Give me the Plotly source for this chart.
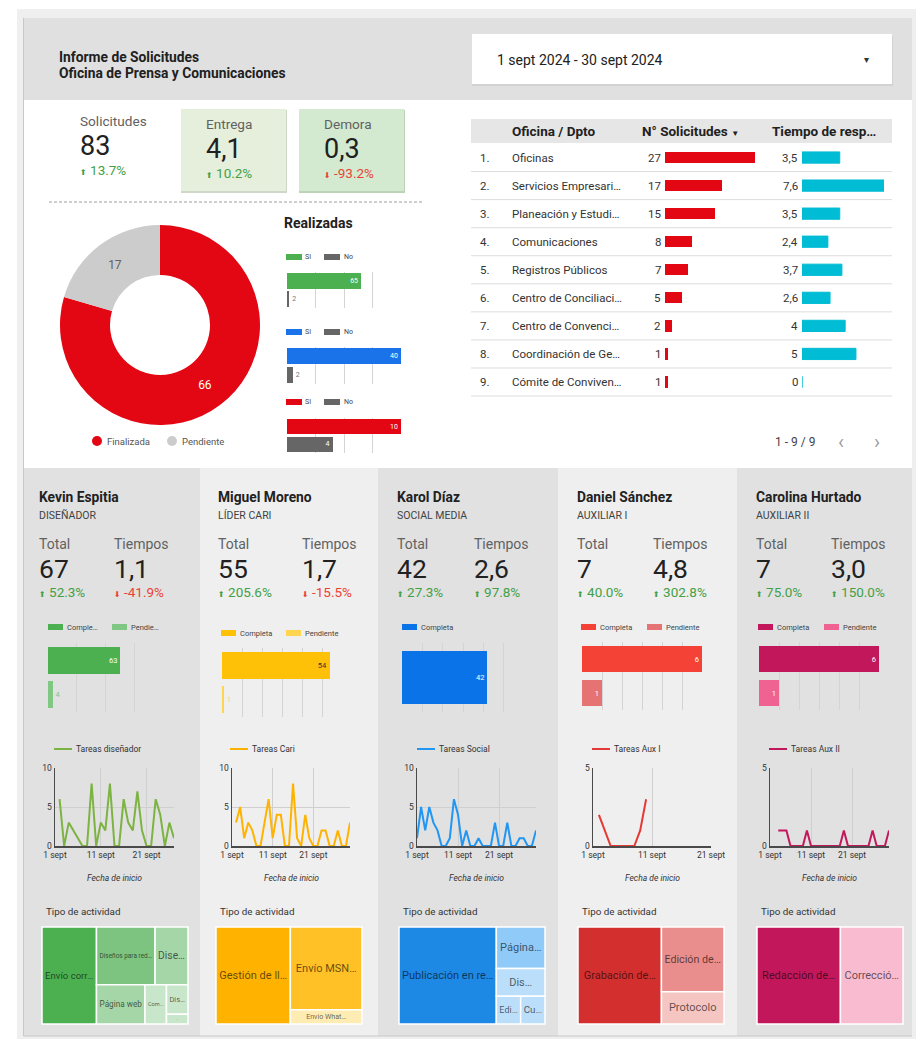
import plotly.graph_objects as go

W, H = 916, 1039
FONT = "Roboto"
GREEN = "#43a047"
RED_TXT = "#ea4335"

# ---------------- data ----------------
title_lines = ["Informe de Solicitudes", "Oficina de Prensa y Comunicaciones"]
date_range_text = "1 sept 2024 - 30 sept 2024"

kpi_labels = ["Solicitudes", "Entrega", "Demora"]
kpi_values = ["83", "4,1", "0,3"]
kpi_changes = [13.7, 10.2, -93.2]

donut_labels = ["Finalizada", "Pendiente"]
donut_values = [66, 17]
donut_colors = ["#e30613", "#cccccc"]

realizadas_categories = ["SI", "No"]
realizadas_si = [65, 40, 10]
realizadas_no = [2, 2, 4]
realizadas_colors = ["#4caf50", "#1a73e8", "#e30613"]

office_names = ["Oficinas", "Servicios Empresari…", "Planeación y Estudi…", "Comunicaciones",
                "Registros Públicos", "Centro de Conciliaci…", "Centro de Convenci…",
                "Coordinación de Ge…", "Cómite de Conviven…"]
office_requests = [27, 17, 15, 8, 7, 5, 2, 1, 1]
office_response_times = [3.5, 7.6, 3.5, 2.4, 3.7, 2.6, 4, 5, 0]
table_headers = ["Oficina / Dpto", "N° Solicitudes", "Tiempo de resp…"]

people = ["Kevin Espitia", "Miguel Moreno", "Karol Díaz", "Daniel Sánchez", "Carolina Hurtado"]
people_roles = ["DISEÑADOR", "LÍDER CARI", "SOCIAL MEDIA", "AUXILIAR I", "AUXILIAR II"]
people_totals = [67, 55, 42, 7, 7]
people_total_changes = [52.3, 205.6, 27.3, 40.0, 75.0]
people_times = [1.1, 1.7, 2.6, 4.8, 3.0]
people_time_changes = [-41.9, -15.5, 97.8, 302.8, 150.0]
tasks_complete = [63, 54, 42, 6, 6]
tasks_pending = [4, 1, None, 1, 1]
complete_colors = ["#4caf50", "#ffc107", "#0b73e8", "#f44336", "#c2185b"]
pending_colors = ["#81c784", "#ffd54f", None, "#e57373", "#f06292"]
complete_text_colors = ["white", "#333333", "white", "white", "white"]

line_names = ["Tareas diseñador", "Tareas Cari", "Tareas Social", "Tareas Aux I", "Tareas Aux II"]
line_colors = ["#7cb342", "#ffb300", "#2196f3", "#e53935", "#c2185b"]
tasks_kevin = [6, 0, 3, 2, 1, 0, 0, 8, 0, 3, 2, 8, 0, 0, 6, 3, 2, 7, 2, 0, 0, 6, 4, 0, 3, 1]          # from 2 sept
tasks_miguel = [3, 5, 1, 3, 2, 0, 0, 3, 6, 1, 4, 4, 0, 0, 8, 1, 0, 4, 1, 0, 0, 2, 2, 0, 0, 2, 0, 0, 3]  # from 2 sept
tasks_karol = [1, 5, 2, 5, 3, 2, 0, 0, 1, 6, 4, 0, 2, 0, 0, 1, 0, 0, 0, 3, 0, 0, 3, 0, 0, 1, 1, 0, 0, 2]  # from 1 sept
tasks_daniel = [2, 1, 0, 0, 0, 0, 0, 1, 3]                                                   # from 2 sept
tasks_carolina = [1, 1, 1, 0, 0, 0, 0, 1, 0, 0, 0, 0, 0, 0, 0, 0, 1, 0, 0, 0, 0, 0, 0, 1, 0, 0, 0, 1]  # from 3 sept
task_series = [tasks_kevin, tasks_miguel, tasks_karol, tasks_daniel, tasks_carolina]
task_start_day = [2, 2, 1, 2, 3]
axis_end_day = [27, 30, 30, 21, 30]
axis_ymax = [10, 10, 10, 5, 5]
date_tick_days = [1, 11, 21]
date_tick_text = ["1 sept", "11 sept", "21 sept"]

tm_labels = [
    ["Envío corr…", "Diseños para red…", "Dise…", "Página web", "Com…", "Dis…", "…"],
    ["Gestión de ll…", "Envío MSN…", "Envío What…"],
    ["Publicación en re…", "Página…", "Dis…", "Edi…", "Cu…"],
    ["Grabación de…", "Edición de…", "Protocolo"],
    ["Redacción de…", "Correcció…"],
]
tm_values = [
    [25, 16, 9, 9, 4, 3, 1],
    [28, 23, 4],
    [28, 6, 4, 2, 2],
    [4, 2, 1],
    [4, 3],
]
tm_colors = [
    ["#4caf50", "#7cc47f", "#a5d6a7", "#a5d6a7", "#c8e6c9", "#c8e6c9", "#c8e6c9"],
    ["#ffb300", "#ffc125", "#ffecb3"],
    ["#1e88e5", "#90caf9", "#bbdefb", "#bbdefb", "#bbdefb"],
    ["#d32f2f", "#e98e8c", "#f5c5c2"],
    ["#c2185b", "#f8bbd0"],
]

# ---------------- helpers ----------------
fig = go.Figure()
shapes, annotations, axes = [], [], {}


def X(x):
    return x / W


def Y(y):
    return 1 - y / H


def rect(x0, y0, x1, y1, fill, line_color=None, line_width=0, layer="below"):
    shapes.append(dict(type="rect", xref="paper", yref="paper", x0=X(x0), x1=X(x1), y0=Y(y1), y1=Y(y0),
                       fillcolor=fill, line=dict(color=line_color or "rgba(0,0,0,0)", width=line_width),
                       layer=layer))


def circle(cx, cy, r, fill):
    shapes.append(dict(type="circle", xref="paper", yref="paper", x0=X(cx - r), x1=X(cx + r),
                       y0=Y(cy + r), y1=Y(cy - r), fillcolor=fill, line=dict(width=0)))


def line(x0, y0, x1, y1, color, width=1, dash="solid", layer="below"):
    shapes.append(dict(type="line", xref="paper", yref="paper", x0=X(x0), x1=X(x1), y0=Y(y0), y1=Y(y1),
                       line=dict(color=color, width=width, dash=dash), layer=layer))


def text(x, y, s, size=11, color="#212121", xanchor="left", yanchor="middle", xref="paper", yref="paper"):
    annotations.append(dict(x=X(x) if xref == "paper" else x, y=Y(y) if yref == "paper" else y,
                            xref=xref, yref=yref, text=s, showarrow=False, xanchor=xanchor,
                            yanchor=yanchor, font=dict(size=size, color=color, family=FONT),
                            borderpad=0))


axis_counter = [0]


def add_axes(xpx, ypx, xopts, yopts):
    axis_counter[0] += 1
    n = axis_counter[0]
    s = "" if n == 1 else str(n)
    axes["xaxis" + s] = dict(domain=[X(xpx[0]), X(xpx[1])], anchor="y" + s, fixedrange=True,
                             automargin=False, **xopts)
    axes["yaxis" + s] = dict(domain=[Y(ypx[1]), Y(ypx[0])], anchor="x" + s, fixedrange=True,
                             automargin=False, **yopts)
    return "x" + s, "y" + s


def bar_xopts(mx, dt):
    return dict(range=[0, mx], dtick=dt, tick0=0, showgrid=True, gridcolor="#d4d4d4", gridwidth=1,
                showticklabels=False, zeroline=False, showline=False, ticks="")


def cat_yopts(cats, visible=True):
    return dict(type="category", categoryorder="array", categoryarray=cats,
                range=[len(cats) - 0.5, -0.5], showticklabels=False, showgrid=False,
                zeroline=False, showline=False, ticks="", visible=visible)


def change_html(v):
    up = v >= 0
    arrow = "⬆" if up else "⬇"
    return (f"<span style='font-size:8px;font-family:DejaVu Sans'>{arrow}</span> {v:.1f}%",
            GREEN if up else RED_TXT)


def dec(v):
    return str(int(v)) if float(v).is_integer() else f"{v:.1f}".replace(".", ",")


def day(d):
    return f"2024-09-{d:02d}"


# ---------------- backgrounds ----------------
rect(17, 9, 916, 1039, "#efefef")
rect(24, 18, 912, 100, "#e0e0e0")
rect(24, 100, 912, 468, "#ffffff")
col_bounds = [24, 200, 378, 558, 737, 912]
col_fills = ["#e1e1e1", "#efefef", "#e1e1e1", "#efefef", "#e1e1e1"]
for i in range(5):
    rect(col_bounds[i], 468, col_bounds[i + 1], 1036, col_fills[i])
line(23.5, 18, 23.5, 1036, "#c8c8c8", 1)
line(23.5, 1036, 912, 1036, "#c8c8c8", 1)

# header
text(58, 57, f"<b>{title_lines[0]}</b>", 13.8)
text(58, 73, f"<b>{title_lines[1]}</b>", 13.8)
rect(472, 36, 893, 86, "#d2d2d2")
rect(472, 34, 892, 84, "#ffffff")
text(496, 60, date_range_text, 14, "#212121")
text(866, 59, "▾", 10, "#333333", xanchor="center")

# ---------------- KPIs ----------------
rect(181, 110, 287, 193, "#cfd8c8")
rect(181, 109, 286, 191, "#e6efdc")
rect(299, 110, 405, 193, "#bcd3b8")
rect(299, 109, 404, 191, "#d3ead0")
kpi_x = [79, 205, 323]
kpi_dy = [0, 3, 3]
for i in range(3):
    text(kpi_x[i], 121 + kpi_dy[i], kpi_labels[i], 13.6, "#616161")
    text(kpi_x[i], 146 + kpi_dy[i], kpi_values[i], 27, "#212121")
    s, c = change_html(kpi_changes[i])
    text(kpi_x[i], 170 + kpi_dy[i], s, 13.5, c)

line(49, 202, 422, 202, "#9e9e9e", 1, dash="3px,2px")

# ---------------- donut ----------------
fig.add_trace(go.Pie(labels=donut_labels, values=donut_values, hole=0.5, sort=False,
                     direction="clockwise", rotation=0,
                     marker=dict(colors=donut_colors, line=dict(width=0)),
                     textinfo="value", textposition="inside", insidetextorientation="horizontal",
                     insidetextfont=dict(color=["white", "#616161"], size=12, family=FONT),
                     domain=dict(x=[X(60), X(260)], y=[Y(425), Y(225)]),
                     showlegend=False, hoverinfo="skip"))
circle(97, 441, 5, donut_colors[0])
text(106, 441, donut_labels[0], 9.5, "#555555")
circle(172, 441, 5, donut_colors[1])
text(181, 441, donut_labels[1], 9.5, "#555555")

# ---------------- Realizadas ----------------
text(283, 223, "<b>Realizadas</b>", 14, "#212121")
real_y = [(272, 308), (347, 384), (418, 453)]
real_leg_y = [257, 332, 402]
real_max = [100, 40, 10]
real_dtick = [25, 10, 2.5]
NO_GRAY = "#666666"
for i in range(3):
    ly = real_leg_y[i]
    rect(286, ly - 3, 302, ly + 3, realizadas_colors[i])
    text(304, ly, "SI", 7, "#444444")
    rect(324, ly - 3, 340, ly + 3, NO_GRAY)
    text(343, ly, "No", 7, "#444444")
    xa, ya = add_axes((287, 401), real_y[i], bar_xopts(real_max[i], real_dtick[i]),
                      cat_yopts(realizadas_categories))
    fig.add_trace(go.Bar(x=[realizadas_si[i], realizadas_no[i]], y=realizadas_categories, orientation="h",
                         xaxis=xa, yaxis=ya, marker=dict(color=[realizadas_colors[i], NO_GRAY], line=dict(width=0)),
                         width=0.86, text=[realizadas_si[i], realizadas_no[i]], textposition="auto",
                         insidetextanchor="end", textangle=0,
                         insidetextfont=dict(color="white", size=7, family=FONT),
                         outsidetextfont=dict(color="#757575", size=7, family=FONT),
                         cliponaxis=False, hoverinfo="skip", showlegend=False))

# ---------------- table ----------------
rect(471, 119, 892, 143, "#e6e6e6")
text(511, 131, f"<b>{table_headers[0]}</b>", 13.5)
text(641, 131, f"<b>{table_headers[1]}</b> <span style='font-size:8px'>▼</span>", 13.5)
text(771, 131, f"<b>{table_headers[2]}</b>", 13.5)
ROW_TOP, ROW_H = 143.5, 28.06
n_rows = len(office_names)
for i in range(n_rows):
    line(471, ROW_TOP + ROW_H * (i + 1), 892, ROW_TOP + ROW_H * (i + 1), "#dddddd", 1)
table_y = (ROW_TOP, ROW_TOP + ROW_H * n_rows)
xa, ya = add_axes((665, 755), table_y, dict(range=[0, max(office_requests)], visible=False),
                  cat_yopts(office_names, visible=False))
fig.add_trace(go.Bar(x=office_requests, y=office_names, orientation="h", xaxis=xa, yaxis=ya,
                     marker=dict(color="#e30613", line=dict(width=0)), width=0.4,
                     hoverinfo="skip", showlegend=False))
for i, name in enumerate(office_names):
    text(479, name, f"{i + 1}.", 11.5, "#333333", yref=ya)
    text(511, name, name, 11.5, "#333333", yref=ya)
    text(662, name, str(office_requests[i]), 11.5, "#333333", xanchor="right", yref=ya)
    text(799, name, dec(office_response_times[i]), 11.5, "#333333", xanchor="right", yref=ya)
xa2, ya2 = add_axes((802, 884), table_y, dict(range=[0, max(office_response_times)], visible=False),
                    cat_yopts(office_names, visible=False))
fig.add_trace(go.Bar(x=office_response_times, y=office_names, orientation="h", xaxis=xa2, yaxis=ya2,
                     marker=dict(color="#00bcd4", line=dict(color="#00bcd4", width=1)), width=0.4,
                     hoverinfo="skip", showlegend=False))
text(774, 442, "1 - 9 / 9", 12, "#444444")
text(841, 442, "‹", 20, "#9e9e9e", xanchor="center")
text(877, 442, "›", 20, "#9e9e9e", xanchor="center")

# ---------------- people ----------------
name_x = [38, 217, 396, 576, 755]
tiempos_x = [113, 301, 473, 652, 830]
bar_xpx = [(48, 163), (222, 342), (402, 524), (582, 702), (759, 879)]
bar_ypx = [(643, 712), (648, 717), (643, 712), (642, 710), (642, 710)]
bar_max = [100, 60, 60, 6, 6]
bar_dtick = [25, 10, 10, 1, 1]
leg_y = [627, 633, 627, 627, 627]
leg_x1 = [48, 221, 402, 581, 758]
leg_x2 = [112, 286, None, 647, 824]
leg_text = [["Comple…", "Pendie…"], ["Completa", "Pendiente"], ["Completa", None],
            ["Completa", "Pendiente"], ["Completa", "Pendiente"]]
line_xpx = [(55, 174), (232, 350), (417, 536), (593, 711), (770, 889)]
line_ypx = (768, 846)
line_leg_x = [54, 230, 417, 592, 769]
tm_xpx = [(42, 188), (216, 362), (399, 545), (578, 724), (757, 903)]
tm_ypx = (927, 1024)
AX_FONT = dict(size=8.5, color="#333333", family=FONT)

for i in range(5):
    x0 = name_x[i]
    text(x0, 497, f"<b>{people[i]}</b>", 13.8, "#212121")
    text(x0, 515, people_roles[i], 10.5, "#424242")
    text(x0, 544, "Total", 14, "#616161")
    text(tiempos_x[i], 544, "Tiempos", 14, "#616161")
    text(x0, 568, str(people_totals[i]), 26.5, "#212121")
    text(tiempos_x[i], 568, f"{people_times[i]:.1f}".replace(".", ","), 26.5, "#212121")
    s, c = change_html(people_total_changes[i])
    text(x0, 592, s, 13.5, c)
    s, c = change_html(people_time_changes[i])
    text(tiempos_x[i], 592, s, 13.5, c)

    # bar legend
    ly = leg_y[i]
    rect(leg_x1[i], ly - 3, leg_x1[i] + 15, ly + 3, complete_colors[i])
    text(leg_x1[i] + 18, ly, leg_text[i][0], 7.5, "#444444")
    if leg_x2[i] is not None:
        rect(leg_x2[i], ly - 3, leg_x2[i] + 15, ly + 3, pending_colors[i])
        text(leg_x2[i] + 18, ly, leg_text[i][1], 7.5, "#444444")

    if tasks_pending[i] is None:
        cats = ["Completa"]
        vals = [tasks_complete[i]]
        cols = [complete_colors[i]]
        in_cols = [complete_text_colors[i]]
        out_cols = [complete_colors[i]]
    else:
        cats = ["Completa", "Pendiente"]
        vals = [tasks_complete[i], tasks_pending[i]]
        cols = [complete_colors[i], pending_colors[i]]
        in_cols = [complete_text_colors[i], "white"]
        out_cols = [complete_colors[i], pending_colors[i]]
    xa, ya = add_axes(bar_xpx[i], bar_ypx[i], bar_xopts(bar_max[i], bar_dtick[i]), cat_yopts(cats))
    fig.add_trace(go.Bar(x=vals, y=cats, orientation="h", xaxis=xa, yaxis=ya,
                         marker=dict(color=cols, line=dict(width=0)), width=0.78,
                         text=vals, textposition="auto", insidetextanchor="end", textangle=0,
                         insidetextfont=dict(color=in_cols, size=7.5, family=FONT),
                         outsidetextfont=dict(color=out_cols, size=7.5, family=FONT),
                         cliponaxis=False, hoverinfo="skip", showlegend=False))

    # line chart
    lx = line_leg_x[i]
    line(lx, 749, lx + 18, 749, line_colors[i], 2)
    text(lx + 21, 749, line_names[i], 8.5, "#333333")
    series = task_series[i]
    dates = [day(task_start_day[i] + k) for k in range(len(series))]
    ymax = axis_ymax[i]
    xa, ya = add_axes(line_xpx[i], line_ypx,
                      dict(type="date", range=[day(1), day(axis_end_day[i])],
                           tickvals=[day(d) for d in date_tick_days], ticktext=date_tick_text,
                           showgrid=True, gridcolor="#cfcfcf", gridwidth=1, showline=True,
                           linecolor="#4a4a4a", linewidth=1.5, ticks="", zeroline=False,
                           tickfont=AX_FONT),
                      dict(range=[0, ymax], tickvals=list(range(0, ymax + 1, 5)),
                           showgrid=True, gridcolor="#cfcfcf", gridwidth=1, showline=True,
                           linecolor="#4a4a4a", linewidth=1.5, ticks="", zeroline=False,
                           tickfont=AX_FONT))
    fig.add_trace(go.Scatter(x=dates, y=series, mode="lines", xaxis=xa, yaxis=ya,
                             line=dict(color=line_colors[i], width=2), hoverinfo="skip",
                             showlegend=False, cliponaxis=False))
    text((line_xpx[i][0] + line_xpx[i][1]) / 2, 878, "<i>Fecha de inicio</i>", 8.5, "#333333",
         xanchor="center")

    # treemap
    text(tm_xpx[i][0] + 3, 911, "Tipo de actividad", 9.8, "#333333")
    fig.add_trace(go.Treemap(labels=tm_labels[i], parents=[""] * len(tm_labels[i]), values=tm_values[i],
                             marker=dict(colors=tm_colors[i], line=dict(color="white", width=1.5),
                                         pad=dict(t=0, l=0, r=0, b=0)),
                             textinfo="label", textposition="middle center",
                             textfont=dict(size=11, color="rgba(0,0,0,0.62)", family=FONT),
                             tiling=dict(pad=0), pathbar=dict(visible=False), root=dict(color="rgba(0,0,0,0)"),
                             domain=dict(x=[X(tm_xpx[i][0]), X(tm_xpx[i][1])], y=[Y(tm_ypx[1]), Y(tm_ypx[0])]),
                             sort=True, hoverinfo="skip"))

fig.update_layout(width=W, height=H, margin=dict(l=0, r=0, t=0, b=0, pad=0, autoexpand=False),
                  autosize=False, paper_bgcolor="#ffffff", plot_bgcolor="rgba(0,0,0,0)",
                  font=dict(family=FONT, color="#212121"), showlegend=False,
                  shapes=shapes, annotations=annotations, bargap=0, **axes)

fig.write_html("out.html", config={"displayModeBar": False, "staticPlot": True},
               post_script="document.body.style.margin='0px';document.body.style.padding='0px';"
                           "document.body.style.overflow='hidden';")
